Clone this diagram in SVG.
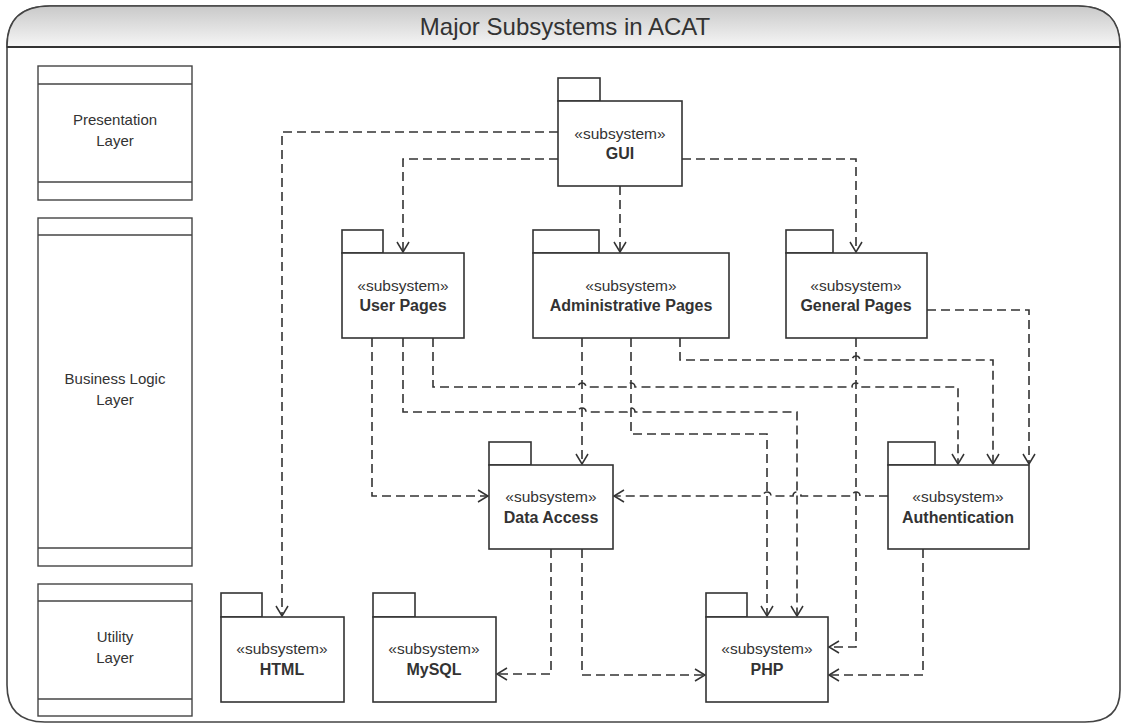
<svg xmlns="http://www.w3.org/2000/svg" width="1125" height="726" viewBox="0 0 1125 726">
<style>
.frame{fill:#fff;stroke:#444;stroke-width:1.6}
.pk{fill:#fff;stroke:#333;stroke-width:1.6}
.lay{fill:#fff;stroke:#444;stroke-width:1.4}
.st{font-family:"Liberation Sans",Arial,sans-serif;font-size:15.5px;fill:#333;text-anchor:middle}
.nm{font-family:"Liberation Sans",Arial,sans-serif;font-size:16px;font-weight:bold;fill:#333;text-anchor:middle}
.lt{font-family:"Liberation Sans",Arial,sans-serif;font-size:15px;fill:#333;text-anchor:middle}
.title{font-family:"Liberation Sans",Arial,sans-serif;font-size:24px;fill:#333;text-anchor:middle}
.cn{fill:none;stroke:#333;stroke-width:1.6;stroke-dasharray:9 5;marker-end:url(#arr)}
</style>
<defs>
<linearGradient id="hdr" x1="0" y1="0" x2="0" y2="1">
<stop offset="0" stop-color="#c9c9c9"/>
<stop offset="1" stop-color="#f6f6f6"/>
</linearGradient>
<marker id="arr" markerUnits="userSpaceOnUse" markerWidth="14" markerHeight="14" refX="11" refY="7" orient="auto">
<path d="M1,1 L11,7 L1,13" fill="none" stroke="#333" stroke-width="1.5" stroke-dasharray="none"/>
</marker>
</defs>

<g id="frame">
<path class="frame" d="M7,48 Q7,6 50,6 H1078 Q1120,6 1120,48 V690 Q1120,722 1085,722 H45 Q7,722 7,685 Z"/>
<path d="M7,47 L7,46 Q7,6 50,6 H1078 Q1120,6 1120,46 L1120,47 Z" fill="url(#hdr)" stroke="#444" stroke-width="1.6"/>
<line x1="7" y1="47" x2="1120" y2="47" stroke="#333" stroke-width="2"/>
<text class="title" x="565" y="35">Major Subsystems in ACAT</text>
</g>

<g id="layer-presentation">
<rect class="lay" x="38" y="66" width="154" height="134"/>
<line class="lay" x1="38" y1="84" x2="192" y2="84"/>
<line class="lay" x1="38" y1="182" x2="192" y2="182"/>
<text class="lt" x="115" y="125">Presentation</text>
<text class="lt" x="115" y="146">Layer</text>
</g>
<g id="layer-business">
<rect class="lay" x="38" y="218" width="154" height="348"/>
<line class="lay" x1="38" y1="235" x2="192" y2="235"/>
<line class="lay" x1="38" y1="548" x2="192" y2="548"/>
<text class="lt" x="115" y="384">Business Logic</text>
<text class="lt" x="115" y="405">Layer</text>
</g>
<g id="layer-utility">
<rect class="lay" x="38" y="584" width="154" height="132"/>
<line class="lay" x1="38" y1="601" x2="192" y2="601"/>
<line class="lay" x1="38" y1="699" x2="192" y2="699"/>
<text class="lt" x="115" y="642">Utility</text>
<text class="lt" x="115" y="663">Layer</text>
</g>

<g id="connectors">
<path class="cn" d="M558,132 H282 V616"/>
<path class="cn" d="M558,159 H403 V252"/>
<path class="cn" d="M620,186 V252"/>
<path class="cn" d="M682,159 H856 V252"/>
<path class="cn" d="M372,338 V496 H488"/>
<path class="cn" d="M403,338 V412 H578 a4,4 0 0 1 8,0 H627 a4,4 0 0 1 8,0 H797 V616"/>
<path class="cn" d="M433,338 V387 H578 a4,4 0 0 1 8,0 H627 a4,4 0 0 1 8,0 H852 a4,4 0 0 1 8,0 H958 V464"/>
<path class="cn" d="M582,338 V464"/>
<path class="cn" d="M631,338 V434 H767 V616"/>
<path class="cn" d="M680,338 V360 H852 a4,4 0 0 1 8,0 H993 V464"/>
<path class="cn" d="M856,338 V647 H829"/>
<path class="cn" d="M927,310 H1029 V464"/>
<path class="cn" d="M888,496 H860 a4,4 0 0 0 -8,0 H801 a4,4 0 0 0 -8,0 H771 a4,4 0 0 0 -8,0 H614"/>
<path class="cn" d="M551,549 V674 H497"/>
<path class="cn" d="M582,549 V675 H705"/>
<path class="cn" d="M923,549 V675 H829"/>
</g>

<g id="gui">
<rect class="pk" x="558" y="78" width="42" height="23"/>
<rect class="pk" x="558" y="101" width="124" height="85"/>
<text class="st" x="620" y="139">«subsystem»</text>
<text class="nm" x="620" y="159">GUI</text>
</g>
<g id="user-pages">
<rect class="pk" x="342" y="230" width="41" height="23"/>
<rect class="pk" x="342" y="253" width="122" height="85"/>
<text class="st" x="403" y="291">«subsystem»</text>
<text class="nm" x="403" y="311">User Pages</text>
</g>
<g id="administrative-pages">
<rect class="pk" x="533" y="230" width="66" height="23"/>
<rect class="pk" x="533" y="253" width="196" height="85"/>
<text class="st" x="631" y="291">«subsystem»</text>
<text class="nm" x="631" y="311">Administrative Pages</text>
</g>
<g id="general-pages">
<rect class="pk" x="786" y="230" width="47" height="23"/>
<rect class="pk" x="786" y="253" width="141" height="85"/>
<text class="st" x="856" y="291">«subsystem»</text>
<text class="nm" x="856" y="311">General Pages</text>
</g>
<g id="data-access">
<rect class="pk" x="489" y="442" width="42" height="23"/>
<rect class="pk" x="489" y="465" width="124" height="84"/>
<text class="st" x="551" y="502">«subsystem»</text>
<text class="nm" x="551" y="523">Data Access</text>
</g>
<g id="authentication">
<rect class="pk" x="888" y="442" width="47" height="23"/>
<rect class="pk" x="888" y="465" width="141" height="84"/>
<text class="st" x="958" y="502">«subsystem»</text>
<text class="nm" x="958" y="523">Authentication</text>
</g>
<g id="html">
<rect class="pk" x="221" y="593" width="41" height="24"/>
<rect class="pk" x="221" y="617" width="123" height="85"/>
<text class="st" x="282" y="654">«subsystem»</text>
<text class="nm" x="282" y="675">HTML</text>
</g>
<g id="mysql">
<rect class="pk" x="373" y="593" width="42" height="24"/>
<rect class="pk" x="373" y="617" width="123" height="85"/>
<text class="st" x="434" y="654">«subsystem»</text>
<text class="nm" x="434" y="675">MySQL</text>
</g>
<g id="php">
<rect class="pk" x="706" y="593" width="41" height="24"/>
<rect class="pk" x="706" y="617" width="122" height="85"/>
<text class="st" x="767" y="654">«subsystem»</text>
<text class="nm" x="767" y="675">PHP</text>
</g>
</svg>
